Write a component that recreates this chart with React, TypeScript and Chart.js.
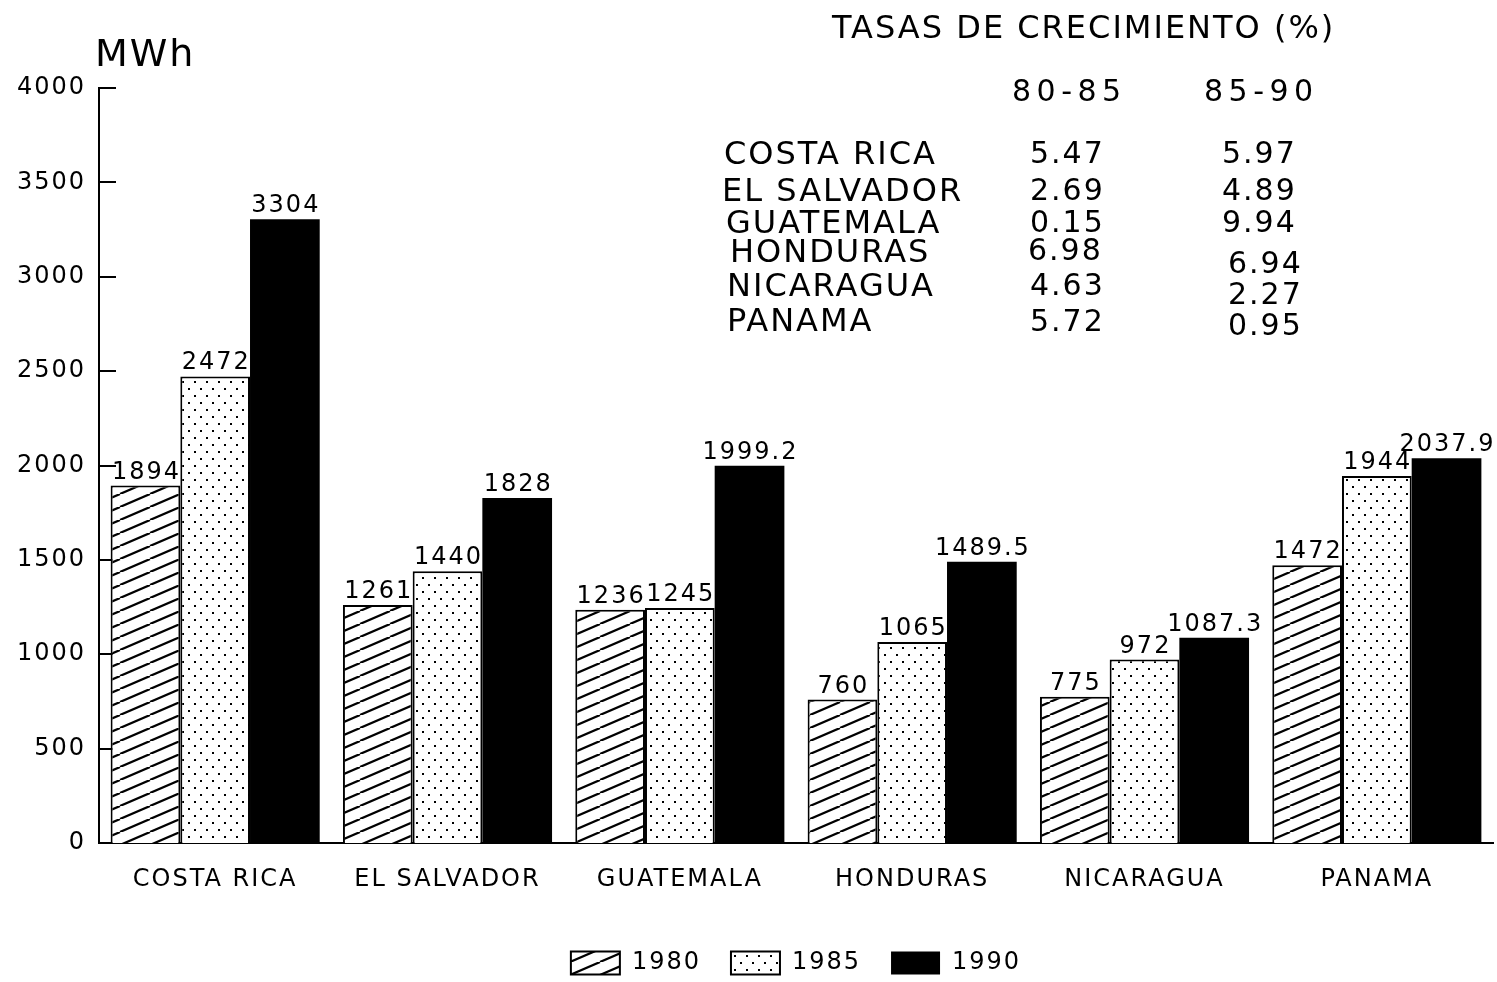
import React, { useEffect, useRef } from 'react';
import { Chart, registerables } from 'chart.js';

Chart.register(...registerables);

// ---- data ----
const countries = ['COSTA RICA', 'EL SALVADOR', 'GUATEMALA', 'HONDURAS', 'NICARAGUA', 'PANAMA'];
const seriesYears = ['1980', '1985', '1990'];
const values1980 = [1894, 1261, 1236, 760, 775, 1472];
const values1985 = [2472, 1440, 1245, 1065, 972, 1944];
const values1990 = [3304, 1828, 1999.2, 1489.5, 1087.3, 2037.9];
const yTickStep = 500;
const yMax = 4000;
const unitLabel = 'MWh';
const tableTitle = 'TASAS DE CRECIMIENTO (%)';
const periodHeaders = ['80-85', '85-90'];
const rates8085 = ['5.47', '2.69', '0.15', '6.98', '4.63', '5.72'];
const rates8590 = ['5.97', '4.89', '9.94', '6.94', '2.27', '0.95'];

const FONT = "'DejaVu Sans', 'Liberation Sans', sans-serif";

function makeHatch(ctx: CanvasRenderingContext2D) {
  const w = 30, h = 13;
  const c = document.createElement('canvas');
  c.width = w; c.height = h;
  const g = c.getContext('2d')!;
  g.fillStyle = '#fff';
  g.fillRect(0, 0, w, h);
  g.strokeStyle = '#000';
  g.lineWidth = 2.2;
  for (let k = -1; k <= 1; k++) {
    g.beginPath();
    g.moveTo(k * w, h);
    g.lineTo(k * w + w, 0);
    g.stroke();
  }
  return ctx.createPattern(c, 'repeat')!;
}

function makeDots(ctx: CanvasRenderingContext2D) {
  const w = 12, h = 14;
  const c = document.createElement('canvas');
  c.width = w; c.height = h;
  const g = c.getContext('2d')!;
  g.fillStyle = '#fff';
  g.fillRect(0, 0, w, h);
  g.fillStyle = '#000';
  g.fillRect(2, 3, 2, 2);
  g.fillRect(8, 10, 2, 2);
  return ctx.createPattern(c, 'repeat')!;
}

const spacingPlugin = {
  id: 'spacing',
  beforeLayout(chart: any) { chart.ctx.letterSpacing = '2px'; },
  beforeDraw(chart: any) { chart.ctx.letterSpacing = '2px'; },
};

const innerTicksPlugin = {
  id: 'innerTicks',
  beforeDatasetsDraw(chart: any) {
    const ys = chart.scales.y;
    const ctx = chart.ctx;
    const left = chart.chartArea.left;
    ctx.save();
    ctx.strokeStyle = '#000';
    ctx.lineWidth = 2;
    ys.ticks.forEach((t: any) => {
      const py = Math.round(ys.getPixelForValue(t.value));
      ctx.beginPath();
      ctx.moveTo(left - 1, py);
      ctx.lineTo(left + 17, py);
      ctx.stroke();
    });
    ctx.restore();
  },
};

function spacedText(ctx: CanvasRenderingContext2D, text: string, x: number, y: number, size: number, spacing: number, align: CanvasTextAlign = 'left') {
  ctx.font = `${size}px ${FONT}`;
  (ctx as any).letterSpacing = `${spacing}px`;
  ctx.textAlign = align;
  ctx.textBaseline = 'alphabetic';
  const dx = align === 'center' ? spacing / 2 : align === 'right' ? spacing : 0;
  ctx.fillText(text, x + dx, y);
}

const textPlugin = {
  id: 'texts',
  afterDatasetsDraw(chart: any) {
    const ctx = chart.ctx as CanvasRenderingContext2D;
    ctx.save();
    ctx.fillStyle = '#000';
    chart.data.datasets.forEach((ds: any, i: number) => {
      const meta = chart.getDatasetMeta(i);
      meta.data.forEach((el: any, j: number) => {
        spacedText(ctx, String(ds.data[j]), el.x, el.y - 7, 24, 2, 'center');
      });
    });
    // unit label
    spacedText(ctx, unitLabel, 95, 66, 38, 2);
    // growth table
    spacedText(ctx, tableTitle, 832, 38, 32, 2);
    spacedText(ctx, periodHeaders[0], 1012, 101, 30, 5.5);
    spacedText(ctx, periodHeaders[1], 1204, 101, 30, 5.5);
    const nameX = [724, 722, 726, 730, 727, 727];
    const nameY = [164, 201, 233, 262, 296, 331];
    const c1X = [1030, 1030, 1030, 1028, 1030, 1030];
    const c1Y = [163, 200, 232, 260, 295, 331];
    const c2X = [1222, 1222, 1222, 1228, 1228, 1228];
    const c2Y = [163, 200, 232, 273, 304, 335];
    countries.forEach((name, i) => {
      spacedText(ctx, name, nameX[i], nameY[i], 32, 2);
      spacedText(ctx, rates8085[i], c1X[i], c1Y[i], 30, 2);
      spacedText(ctx, rates8590[i], c2X[i], c2Y[i], 30, 2);
    });
    ctx.restore();
  },
};

export default function App() {
  const ref = useRef<HTMLCanvasElement>(null);
  useEffect(() => {
    const canvas = ref.current!;
    const ctx = canvas.getContext('2d')!;
    const hatch = makeHatch(ctx);
    const dots = makeDots(ctx);
    const chart = new Chart(canvas, {
      type: 'bar',
      data: {
        labels: countries,
        datasets: [
          { label: seriesYears[0], data: values1980, backgroundColor: hatch, borderColor: '#000', borderWidth: 2 },
          { label: seriesYears[1], data: values1985, backgroundColor: dots, borderColor: '#000', borderWidth: 2 },
          { label: seriesYears[2], data: values1990, backgroundColor: '#000', borderColor: '#000', borderWidth: 0 },
        ],
      },
      options: {
        responsive: false,
        animation: false,
        devicePixelRatio: 1,
        layout: { padding: { top: 88, left: 0, right: 4, bottom: -3 } },
        datasets: { bar: { barPercentage: 1.0, categoryPercentage: 0.9 } },
        plugins: {
          tooltip: { enabled: false },
          legend: {
            position: 'bottom',
            fullSize: false,
            labels: {
              boxWidth: 49,
              boxHeight: 23,
              padding: 30,
              color: '#000',
              font: { family: FONT, size: 24 },
            },
          },
        },
        scales: {
          x: {
            grid: { display: false, drawTicks: false },
            border: { display: true, color: '#000', width: 2 },
            ticks: { color: '#000', font: { family: FONT, size: 24 }, padding: 22, maxRotation: 0, autoSkip: false },
            afterFit: (s: any) => { s.height = 78; },
          },
          y: {
            min: 0,
            max: yMax,
            grid: { display: false, drawTicks: false },
            border: { display: true, color: '#000', width: 2 },
            ticks: {
              stepSize: yTickStep,
              color: '#000',
              font: { family: FONT, size: 24 },
              padding: 13,
              callback: (v: any) => String(v),
            },
            afterFit: (s: any) => { s.width = 99; },
          },
        },
      },
      plugins: [spacingPlugin, innerTicksPlugin, textPlugin],
    } as any);
    return () => chart.destroy();
  }, []);
  return (
    <div style={{ position: 'fixed', left: 0, top: 0, width: 1497, height: 982, background: '#fff' }}>
      <canvas ref={ref} width={1497} height={982} style={{ display: 'block', width: 1497, height: 982 }} />
    </div>
  );
}
